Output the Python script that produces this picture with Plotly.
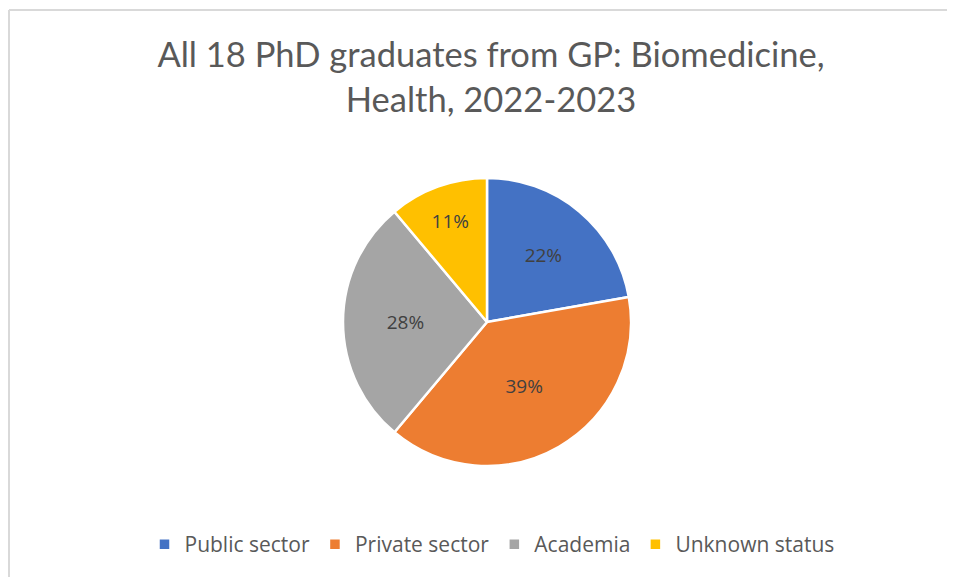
import plotly.graph_objects as go

categories = ["Public sector", "Private sector", "Academia", "Unknown status"]
counts = [4, 7, 5, 2]
colors = ["#4472C4", "#ED7D31", "#A5A5A5", "#FFC000"]
title_text = "All 18 PhD graduates from GP: Biomedicine,<br>Health, 2022-2023"

W, H = 955, 577
OFF = 8  # page body margin
cx, cy, r = 487 - OFF, 322 - OFF, 144

fig = go.Figure(go.Pie(
    labels=categories,
    values=counts,
    sort=False,
    direction="clockwise",
    rotation=0,
    marker=dict(colors=colors, line=dict(color="white", width=2.5)),
    texttemplate="%{percent:.0%}",
    textposition="inside",
    insidetextorientation="horizontal",
    insidetextfont=dict(color="#404040", size=19, family="Open Sans"),
    domain=dict(x=[(cx - r) / W, (cx + r) / W], y=[1 - (cy + r) / H, 1 - (cy - r) / H]),
    hoverinfo="label+value+percent",
))

fig.update_layout(
    width=W, height=H,
    margin=dict(l=0, r=0, t=0, b=0),
    paper_bgcolor="white",
    title=dict(text=title_text, x=(491 - OFF) / W, xanchor="center", y=1 - 59 / H, yanchor="top",
               font=dict(family="Lato", size=34.5, color="#595959")),
    legend=dict(orientation="h", x=(492 - OFF) / W, xanchor="center", y=1 - (524 - OFF) / H, yanchor="top",
                font=dict(family="Open Sans", size=21, color="#595959"),
                itemwidth=30, tracegroupgap=0),
    shapes=[
        dict(type="line", xref="paper", yref="paper", x0=(9 - OFF) / W, x1=1, y0=1 - (10 - OFF) / H, y1=1 - (10 - OFF) / H,
             line=dict(color="#D9D9D9", width=2)),
        dict(type="line", xref="paper", yref="paper", x0=(9 - OFF) / W, x1=(9 - OFF) / W, y0=0, y1=1 - (10 - OFF) / H,
             line=dict(color="#D9D9D9", width=2)),
    ],
)

fig.write_html("out.html")
